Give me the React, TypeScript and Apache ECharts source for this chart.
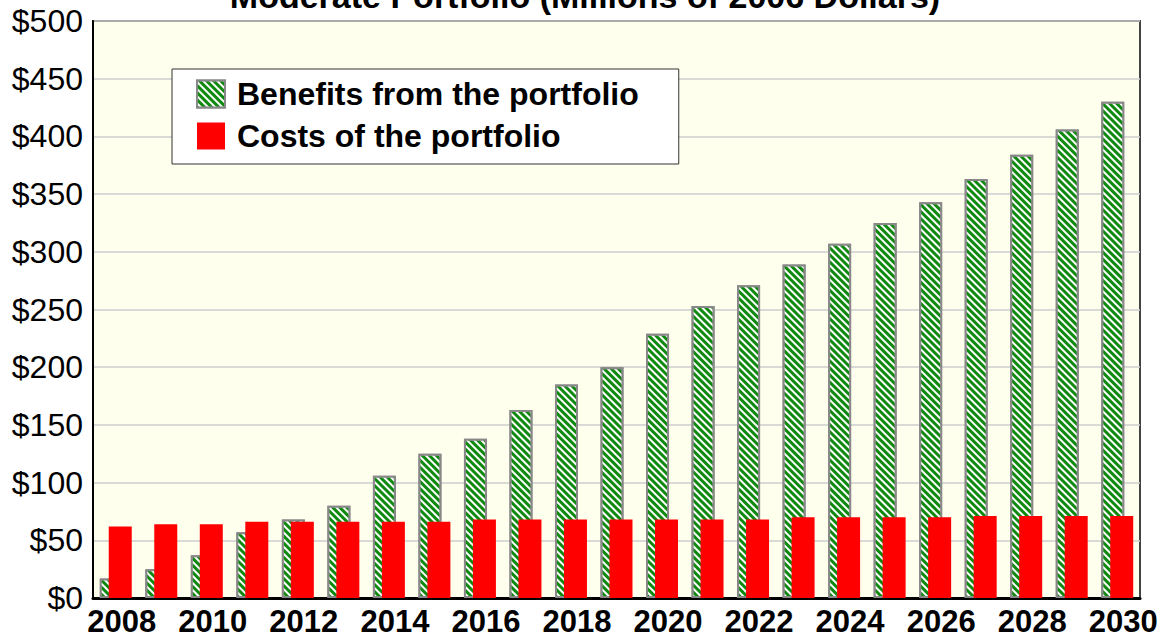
import React, { useEffect, useRef } from "react";
import * as echarts from "echarts";

const years = ["2008","2009","2010","2011","2012","2013","2014","2015","2016","2017","2018","2019","2020","2021","2022","2023","2024","2025","2026","2027","2028","2029","2030"];
const benefits = [17, 25, 37, 57, 68, 80, 106, 125, 138, 163, 185, 200, 229, 253, 271, 289, 307, 325, 343, 363, 384, 406, 430];
const costs = [62, 64, 64, 66, 66, 66, 66, 66, 68, 68, 68, 68, 68, 68, 68, 70, 70, 70, 70, 71, 71, 71, 71];
const titleText = "Moderate Portfolio (Millions of 2006 Dollars)";
const seriesNames = ["Benefits from the portfolio", "Costs of the portfolio"];

const FONT = "'Liberation Sans', Arial, sans-serif";

export default function App() {
  const ref = useRef<HTMLDivElement>(null);
  useEffect(() => {
    if (!ref.current) return;
    const chart = echarts.init(ref.current, null, { renderer: "svg" });
    chart.setOption({
      animation: false,
      backgroundColor: "#ffffff",
      graphic: [
        {
          type: "text",
          x: 585,
          y: -4,
          style: {
            text: titleText,
            fontFamily: FONT,
            fontSize: 34,
            fontWeight: "bold",
            fill: "#000",
            textAlign: "center",
            textVerticalAlign: "middle",
          },
          z: 100,
        },
      ],
      grid: {
        left: 93,
        right: 24,
        top: 21,
        bottom: 44,
        show: true,
        backgroundColor: "#FFFFEE",
        borderColor: "#444",
        borderWidth: 2,
      },
      legend: {
        orient: "vertical",
        left: 172,
        top: 69,
        icon: "rect",
        itemWidth: 28,
        itemHeight: 27,
        itemGap: 10,
        padding: [9, 40, 12, 24],
        backgroundColor: "#ffffff",
        borderColor: "#333",
        borderWidth: 1,
        textStyle: {
          fontFamily: FONT,
          fontSize: 32,
          fontWeight: "bold",
          color: "#000",
          padding: [0, 0, 0, 7],
        },
        data: seriesNames,
      },
      xAxis: {
        type: "category",
        data: years,
        axisTick: { show: false },
        axisLine: { lineStyle: { color: "#000", width: 3 } },
        axisLabel: {
          interval: 1,
          margin: 8,
          color: "#000",
          fontFamily: FONT,
          fontSize: 31,
          fontWeight: "bold",
          padding: [0, 0, 0, 12],
        },
      },
      yAxis: {
        type: "value",
        min: 0,
        max: 500,
        interval: 50,
        axisLine: { show: true, lineStyle: { color: "#000", width: 2 } },
        axisTick: { show: false },
        splitLine: { lineStyle: { color: "#cccccc", width: 1.5 } },
        axisLabel: {
          margin: 10,
          color: "#000",
          fontFamily: FONT,
          fontSize: 32,
          formatter: (v: number) => "$" + v,
        },
      },
      series: [
        {
          name: seriesNames[0],
          type: "bar",
          data: benefits,
          barWidth: 23,
          barGap: "-61%",
          itemStyle: {
            color: "#0F8A0F",
            borderColor: "#888888",
            borderWidth: 2,
            decal: {
              symbol: "rect",
              symbolSize: 1,
              dashArrayX: [1, 0],
              dashArrayY: [1.6, 2.2],
              rotation: Math.PI / 4,
              color: "#ffffff",
            },
          },
        },
        {
          name: seriesNames[1],
          type: "bar",
          data: costs,
          barWidth: 23,
          itemStyle: { color: "#FF0000" },
        },
      ],
    });
    return () => chart.dispose();
  }, []);
  return (
    <div
      ref={ref}
      style={{ position: "fixed", left: 0, top: 0, width: 1164, height: 642 }}
    />
  );
}
